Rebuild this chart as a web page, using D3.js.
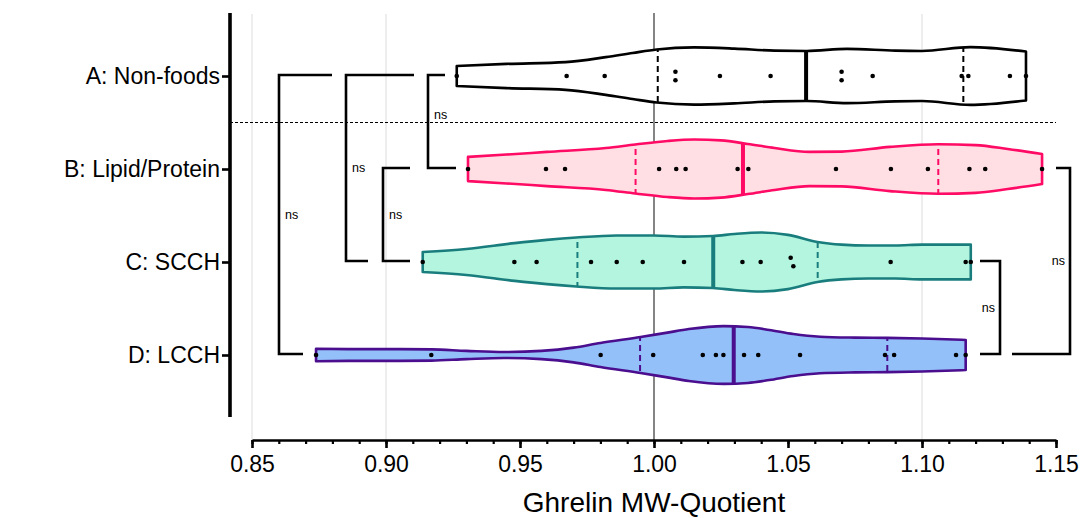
<!DOCTYPE html>
<html>
<head>
<meta charset="utf-8">
<script src="https://cdn.jsdelivr.net/npm/d3@7"></script>
<style>
  body { margin: 0; background: #fff; }
  svg { display: block; font-family: "Liberation Sans", Arial, sans-serif; }
</style>
</head>
<body>
<svg id="chart" width="1087" height="518"></svg>
<script>
// ---------------- DATA ----------------
const categories = ["A: Non-foods", "B: Lipid/Protein", "C: SCCH", "D: LCCH"];

const pointsA = [0.9264, 0.9674, 0.9816, 1.0080, 1.0080, 1.0246, 1.0435, 1.0700, 1.0700, 1.0816, 1.1148, 1.1173, 1.1328, 1.1388];
const pointsB = [0.9306, 0.9597, 0.9668, 1.0019, 1.0083, 1.0118, 1.0312, 1.0352, 1.0679, 1.0884, 1.1022, 1.1177, 1.1236, 1.1448];
const pointsC = [0.9137, 0.9479, 0.9562, 0.9765, 0.9861, 0.9958, 1.0112, 1.0330, 1.0398, 1.0510, 1.0520, 1.0883, 1.1163, 1.1182];
const pointsD = [0.8739, 0.9169, 0.9801, 0.9997, 1.0182, 1.0231, 1.0259, 1.0336, 1.0389, 1.0545, 1.0862, 1.0896, 1.1127, 1.1163];

// relative violin density (0..1): [value, density]
const densityA = [[0.9264,0.34],[0.945,0.41],[0.967,0.47],[0.982,0.64],[0.992,0.78],[1.001,0.90],[1.015,0.97],[1.030,0.93],[1.045,0.86],[1.057,0.85],[1.072,0.92],[1.090,0.86],[1.100,0.85],[1.118,0.98],[1.1388,0.83]];
const densityB = [[0.9306,0.41],[0.945,0.49],[0.960,0.58],[0.982,0.71],[0.993,0.83],[1.005,0.95],[1.015,1.00],[1.025,0.97],[1.035,0.85],[1.045,0.71],[1.058,0.58],[1.070,0.59],[1.088,0.75],[1.106,0.84],[1.120,0.81],[1.132,0.68],[1.1448,0.51]];
const densityC = [[0.9137,0.34],[0.930,0.44],[0.948,0.64],[0.960,0.75],[0.971,0.83],[0.986,0.90],[1.000,0.90],[1.011,0.86],[1.022,0.88],[1.030,0.95],[1.040,1.00],[1.050,0.92],[1.061,0.68],[1.070,0.59],[1.080,0.56],[1.090,0.56],[1.100,0.59],[1.1182,0.59]];
const densityD = [[0.8739,0.21],[0.890,0.20],[0.905,0.20],[0.917,0.19],[0.930,0.14],[0.944,0.10],[0.958,0.14],[0.970,0.25],[0.980,0.41],[0.995,0.61],[1.005,0.76],[1.013,0.88],[1.026,0.98],[1.035,0.95],[1.043,0.85],[1.052,0.71],[1.062,0.62],[1.075,0.59],[1.087,0.58],[1.100,0.56],[1.1163,0.51]];

const xTickValues = [0.85, 0.90, 0.95, 1.00, 1.05, 1.10, 1.15];
const xMinorTickValues = d3.range(85, 116).map(d => d / 100);
const gridValues = [0.85, 0.90, 1.10];
const referenceValue = 1.00;
const xTitle = "Ghrelin MW-Quotient";

// comparisons: [group1, group2, label]
const leftComparisons = [[0, 3, "ns"], [0, 2, "ns"], [1, 2, "ns"], [0, 1, "ns"]];
const rightComparisons = [[2, 3, "ns"], [1, 3, "ns"]];

// ---------------- STYLES ----------------
const groupStyles = [
  { stroke: "#000000", fill: "#ffffff" },
  { stroke: "#ff0a64", fill: "#ffdfe4" },
  { stroke: "#1a7d7d", fill: "#b3f5de" },
  { stroke: "#4a0e8e", fill: "#93c0f8" }
];
const fontFamily = "'Liberation Sans', Arial, sans-serif";

// ---------------- SCALES ----------------
const svg = d3.select("#chart");
const x = d3.scaleLinear().domain([0.85, 1.15]).range([252, 1056]);
const y = d3.scalePoint().domain(d3.range(categories.length)).range([76, 355]);
const w = d3.scaleLinear().domain([0, 1]).range([0, y.step() * 0.317]);

const axisY = 440;
const yAxisX = 230;
const plotTop = 13;

// gridlines
svg.append("g").selectAll("line").data(gridValues).join("line")
  .attr("x1", d => x(d)).attr("x2", d => x(d))
  .attr("y1", plotTop + 1).attr("y2", axisY)
  .attr("stroke", "#dcdcdc").attr("stroke-width", 1);

// reference line at 1.00
svg.append("line")
  .attr("x1", x(referenceValue)).attr("x2", x(referenceValue))
  .attr("y1", plotTop).attr("y2", axisY)
  .attr("stroke", "#666").attr("stroke-width", 1.6);

// dashed horizontal line between A and B
svg.append("line")
  .attr("x1", yAxisX).attr("x2", x(1.15))
  .attr("y1", (y(0) + y(1)) / 2).attr("y2", (y(0) + y(1)) / 2)
  .attr("stroke", "#000").attr("stroke-width", 1).attr("stroke-dasharray", "3,2");

// ---------------- VIOLINS ----------------
const groups = [
  { pts: pointsA, dens: densityA },
  { pts: pointsB, dens: densityB },
  { pts: pointsC, dens: densityC },
  { pts: pointsD, dens: densityD }
];

function quant(sorted, p) {
  const h = (sorted.length + 1) * p - 1;
  const i = Math.floor(h);
  return sorted[i] + (h - i) * (sorted[i + 1] - sorted[i]);
}

const defs = svg.append("defs");

groups.forEach((g, gi) => {
  const cy = y(gi);
  const st = groupStyles[gi];
  const area = d3.area()
    .x(d => x(d[0]))
    .y0(d => cy - w(d[1]))
    .y1(d => cy + w(d[1]))
    .curve(d3.curveMonotoneX);
  const pathD = area(g.dens);

  defs.append("clipPath").attr("id", "clip" + gi)
    .append("path").attr("d", pathD);

  const gg = svg.append("g");
  gg.append("path").attr("d", pathD).attr("fill", st.fill).attr("stroke", "none");

  const sorted = g.pts.slice().sort(d3.ascending);
  const med = quant(sorted, 0.5);
  const q1 = quant(sorted, 0.25);
  const q3 = quant(sorted, 0.75);

  const lg = gg.append("g").attr("clip-path", `url(#clip${gi})`);
  lg.append("line")
    .attr("x1", x(med)).attr("x2", x(med))
    .attr("y1", cy - 40).attr("y2", cy + 40)
    .attr("stroke", st.stroke).attr("stroke-width", 4);
  [q1, q3].forEach(q => {
    lg.append("line")
      .attr("x1", x(q)).attr("x2", x(q))
      .attr("y1", cy - 40).attr("y2", cy + 40)
      .attr("stroke", st.stroke).attr("stroke-width", 2)
      .attr("stroke-dasharray", "6,4");
  });

  gg.append("path").attr("d", pathD).attr("fill", "none")
    .attr("stroke", st.stroke).attr("stroke-width", 2.6)
    .attr("stroke-linejoin", "round");

  // points with simple dodge for overlaps
  const placed = [];
  let i = 0;
  while (i < sorted.length) {
    let j = i + 1;
    while (j < sorted.length && x(sorted[j]) - x(sorted[j - 1]) < 4) j++;
    const n = j - i;
    for (let k = i; k < j; k++) {
      const off = n === 1 ? 0 : (k - i - (n - 1) / 2) * 8.4;
      placed.push({ v: sorted[k], dy: off });
    }
    i = j;
  }
  gg.append("g").selectAll("circle").data(placed).join("circle")
    .attr("cx", d => x(d.v)).attr("cy", d => cy + d.dy)
    .attr("r", 2.3).attr("fill", "#000");
});

// ---------------- AXES ----------------
// x axis minor ticks
const xMinor = svg.append("g").attr("transform", `translate(0,${axisY})`)
  .call(d3.axisBottom(x).tickValues(xMinorTickValues).tickSize(4).tickSizeOuter(0).tickFormat(""));
xMinor.select(".domain").remove();
xMinor.selectAll(".tick line").attr("stroke", "#000").attr("stroke-width", 2.2);

const xAx = svg.append("g").attr("transform", `translate(0,${axisY})`)
  .call(d3.axisBottom(x).tickValues(xTickValues).tickSize(8).tickSizeOuter(0).tickPadding(8)
    .tickFormat(d3.format(".2f")));
xAx.select(".domain").attr("stroke", "#000").attr("stroke-width", 2.6);
xAx.selectAll(".tick line").attr("stroke", "#000").attr("stroke-width", 2.6);
xAx.selectAll(".tick text").attr("font-size", 23).attr("fill", "#000")
  .attr("font-family", fontFamily);

svg.append("text")
  .attr("x", x(1.00)).attr("y", 512)
  .attr("text-anchor", "middle").attr("font-size", 28).attr("fill", "#000")
  .attr("font-family", fontFamily)
  .text(xTitle);

// y axis
svg.append("line")
  .attr("x1", yAxisX).attr("x2", yAxisX)
  .attr("y1", plotTop).attr("y2", 417)
  .attr("stroke", "#000").attr("stroke-width", 3.6);

const yAx = svg.append("g").attr("transform", `translate(${yAxisX},0)`)
  .call(d3.axisLeft(y).tickSize(8).tickPadding(2).tickFormat(i => categories[i]));
yAx.select(".domain").remove();
yAx.selectAll(".tick line").attr("stroke", "#000").attr("stroke-width", 2.6);
yAx.selectAll(".tick text").attr("font-size", 23).attr("fill", "#000")
  .attr("font-family", fontFamily);

// ---------------- BRACKETS ----------------
// layout for left brackets: vertical x, top arm end, bottom arm end
const leftLayout = [
  { vx: 279, t: 332, b: 303, dy: 0 },
  { vx: 346, t: 414, b: 368, dy: 0 },
  { vx: 383, t: 410, b: 410, dy: 0 },
  { vx: 428, t: 445, b: 456, dy: -7 }
];
leftComparisons.forEach((c, i) => {
  const L = leftLayout[i];
  const y1 = y(c[0]) - 1, y2 = y(c[1]) - 1;
  svg.append("path")
    .attr("d", `M${L.t},${y1}H${L.vx}V${y2}H${L.b}`)
    .attr("stroke", "#000").attr("stroke-width", 2.6).attr("fill", "none");
  svg.append("text")
    .attr("x", L.vx + 6).attr("y", (y1 + y2) / 2 + L.dy + 4)
    .attr("font-size", 12.5).attr("fill", "#000").text(c[2]);
});

const rightLayout = [
  { vx: 1000, t: 980, b: 980, lx: 995 },
  { vx: 1070, t: 1056, b: 1012, lx: 1065 }
];
rightComparisons.forEach((c, i) => {
  const L = rightLayout[i];
  const y1 = y(c[0]) - 1, y2 = y(c[1]) - 1;
  svg.append("path")
    .attr("d", `M${L.t},${y1}H${L.vx}V${y2}H${L.b}`)
    .attr("stroke", "#000").attr("stroke-width", 2.6).attr("fill", "none");
  svg.append("text")
    .attr("x", L.lx).attr("y", (y1 + y2) / 2 + 4)
    .attr("text-anchor", "end")
    .attr("font-size", 12.5).attr("fill", "#000").text(c[2]);
});
</script>
</body>
</html>
